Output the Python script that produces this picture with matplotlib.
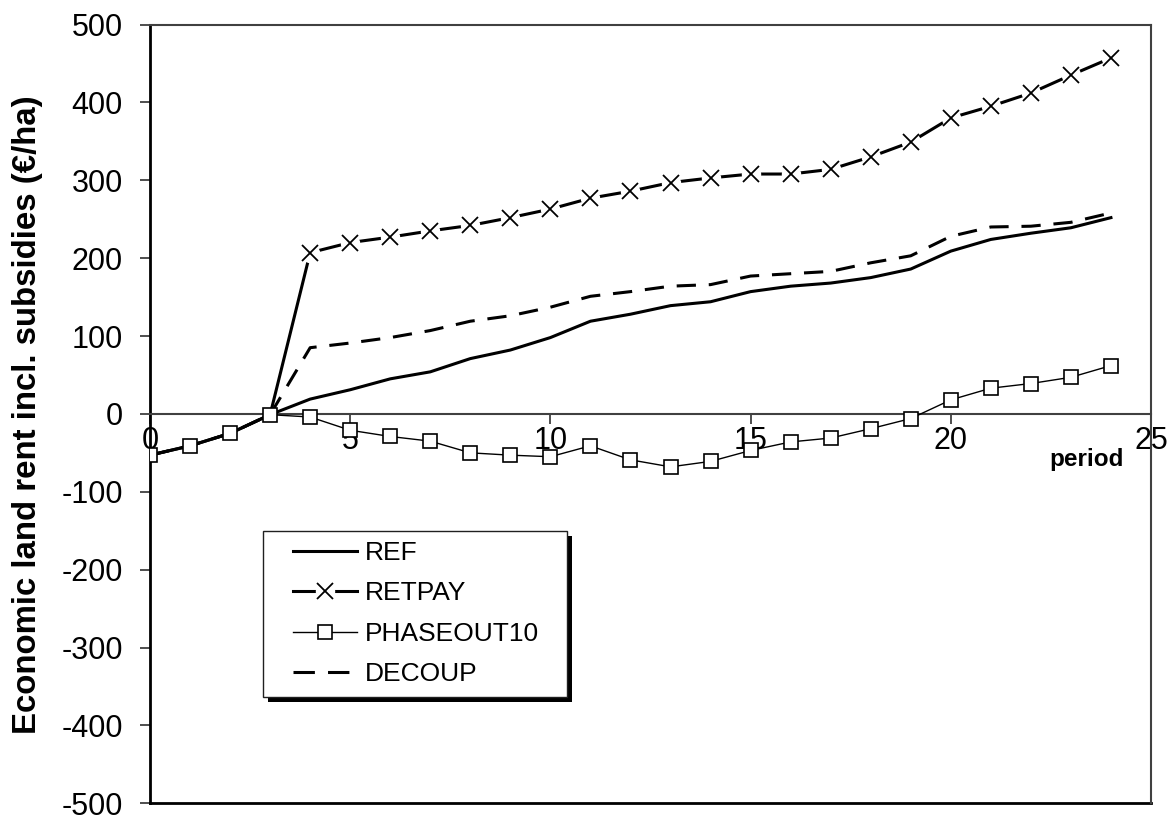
import matplotlib
matplotlib.use("Agg")
import matplotlib.pyplot as plt
from matplotlib.lines import Line2D
from matplotlib.patches import Rectangle
from matplotlib.legend_handler import HandlerTuple

plt.rcParams["font.family"] = ["Liberation Sans", "DejaVu Sans"]
plt.rcParams["axes.unicode_minus"] = False

periods = list(range(25))
ref = [-53, -41, -25, -1, 19, 31, 45, 54, 71, 82, 98, 119, 128, 139, 144,
       157, 164, 168, 175, 186, 209, 224, 232, 239, 252]
retpay = [-53, -41, -25, -1, 207, 220, 227, 235, 242, 252, 263, 277, 286, 297,
          303, 308, 308, 314, 330, 349, 380, 395, 412, 435, 457]
phaseout10 = [-53, -41, -25, -1, -4, -21, -29, -35, -50, -53, -55, -41, -59,
              -68, -61, -47, -36, -31, -19, -6, 18, 33, 39, 47, 62]
decoup = [-53, -41, -25, -1, 85, 91, 98, 107, 119, 126, 137, 151, 157, 164,
          166, 177, 180, 183, 194, 203, 228, 240, 241, 246, 258]

x_ticks = [0, 5, 10, 15, 20, 25]
y_ticks = [-500, -400, -300, -200, -100, 0, 100, 200, 300, 400, 500]
names = ["REF", "RETPAY", "PHASEOUT10", "DECOUP"]

fig = plt.figure(figsize=(11.71, 8.17), dpi=100)
ax = fig.add_axes([0.1281, 0.0168, 0.8548, 0.9532])

ax.plot(periods, ref, color="black", lw=2.2, zorder=3)
ax.plot(periods, decoup, color="black", lw=2.2, dashes=(6.3, 4.2), zorder=3)
ax.plot(periods, retpay, color="black", lw=2.2, zorder=3)
# white discs cut the line open around each cross, like the original
ax.plot(periods, retpay, ls="none", marker="o", ms=14, mfc="white",
        mec="none", markevery=slice(4, None), zorder=4)
ax.plot(periods, retpay, ls="none", marker="x", ms=11, mew=1.3,
        color="black", markevery=slice(4, None), zorder=5)
ax.plot(periods, phaseout10, color="black", lw=1.0, marker="s", ms=9.5,
        mfc="white", mec="black", mew=1.2, zorder=6)

ax.set_xlim(0, 25)
ax.set_ylim(-500, 500)
ax.set_xticks(x_ticks)
ax.set_yticks(y_ticks)

ax.spines["bottom"].set_position(("data", 0))
ax.spines["bottom"].set_color("#404040")
ax.spines["bottom"].set_linewidth(1.5)
ax.spines["left"].set_color("black")
ax.spines["left"].set_linewidth(2)
for side in ["top", "right"]:
    ax.spines[side].set_color("#404040")
    ax.spines[side].set_linewidth(1.5)
ax.axhline(-500, color="black", lw=2, clip_on=False, zorder=2)

ax.tick_params(axis="x", direction="out", length=7.5, width=1.3,
               color="#404040", labelsize=22, pad=1)
ax.tick_params(axis="y", direction="out", length=7.5, width=1.3,
               color="#404040", labelsize=22, pad=12)

fig.text(0.0231, 0.492, "Economic land rent incl. subsidies (€/ha)",
         rotation=90, ha="center", va="center", fontsize=23.8,
         fontweight="bold")
ax.text(23.38, -59, "period", ha="center", va="center", fontsize=17.5,
        fontweight="bold")

# legend handles
h_ref = Line2D([], [], color="black", lw=2.2)
h_ret = (Line2D([], [], color="black", lw=2.2),
         Line2D([], [], ls="none", marker="o", ms=14, mfc="white", mec="none"),
         Line2D([], [], ls="none", marker="x", ms=11, mew=1.3, color="black"))
h_pho = (Line2D([], [], color="black", lw=1.0),
         Line2D([], [], ls="none", marker="s", ms=9.5, mfc="white",
                mec="black", mew=1.2))
h_dec = Line2D([], [], color="black", lw=2.2, dashes=(7.0, 4.3))

leg = fig.legend([h_ref, h_ret, h_pho, h_dec], names,
                 handler_map={tuple: HandlerTuple(ndivide=1)},
                 loc="upper left", bbox_to_anchor=(293 / 1171, 1 - 541 / 817),
                 bbox_transform=fig.transFigure, borderaxespad=0,
                 borderpad=0, fontsize=19, handlelength=2.42,
                 handletextpad=0.3, labelspacing=0.625, numpoints=1,
                 frameon=False)
leg.set_zorder(6)

# legend box with hard black shadow
bx, by = 262.7 / 1171, 1 - 697 / 817
bw, bh = (567 - 262.7) / 1171, (697 - 530.7) / 817
fig.patches.append(Rectangle((bx + 5 / 1171, by - 5 / 817), bw, bh,
                             transform=fig.transFigure, facecolor="black",
                             edgecolor="none", zorder=4))
fig.patches.append(Rectangle((bx, by), bw, bh, transform=fig.transFigure,
                             facecolor="white", edgecolor="#202020", lw=1.0,
                             zorder=5))

fig.savefig("out.png", dpi=100)
